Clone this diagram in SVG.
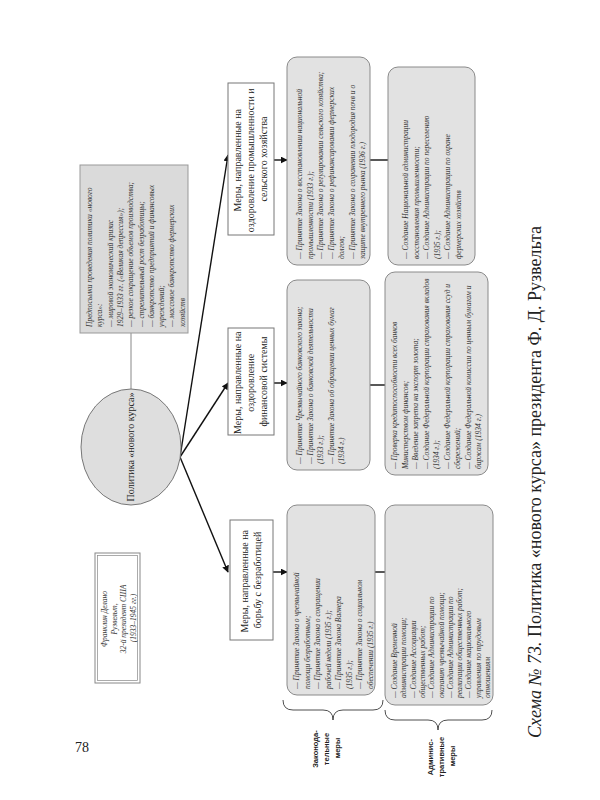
<svg xmlns="http://www.w3.org/2000/svg" width="600" height="800" viewBox="0 0 600 800">
<defs>
<style>
.bg{fill:#ffffff}
.it{font-family:"Liberation Serif","DejaVu Serif",serif;font-style:italic;font-size:7.5px;fill:#333}
.rg{font-family:"Liberation Serif","DejaVu Serif",serif;font-size:10px;fill:#222}
.lb{font-family:"Liberation Sans","DejaVu Sans",sans-serif;font-weight:bold;font-size:7.5px;fill:#222}
.gbox{fill:#e2e2e2;stroke:#8a8a8a;stroke-width:1}
.wbox{fill:#ffffff;stroke:#777;stroke-width:1}
.con{stroke:#111;stroke-width:1.4;fill:none}
.thin{stroke:#888;stroke-width:1;fill:none}
.brace{stroke:#222;stroke-width:0.8;fill:none}
</style>
<marker id="ah" viewBox="0 0 10 10" refX="9" refY="5" markerWidth="7" markerHeight="7" orient="auto" markerUnits="userSpaceOnUse">
<path d="M0,0 L10,5 L0,10 z" fill="#111"/>
</marker>
</defs>
<rect class="bg" x="0" y="0" width="600" height="800"/>
<text x="75" y="752" font-family="Liberation Serif, serif" font-size="14" fill="#222">78</text>
<g transform="translate(0,800) rotate(-90)">
<g id="connectors">
<line class="thin" x1="411" y1="131" x2="467" y2="131"/>
<line class="con" x1="343" y1="180" x2="645" y2="228" marker-end="url(#ah)"/>
<line class="con" x1="343" y1="180" x2="417" y2="228" marker-end="url(#ah)"/>
<line class="con" x1="343" y1="180" x2="228" y2="228" marker-end="url(#ah)"/>
<line class="con" x1="640" y1="274" x2="640" y2="287" marker-end="url(#ah)"/>
<line class="con" x1="417" y1="274" x2="417" y2="287" marker-end="url(#ah)"/>
<line class="con" x1="228" y1="273" x2="228" y2="287" marker-end="url(#ah)"/>
<line class="con" x1="640" y1="370" x2="640" y2="388"/>
<line class="con" x1="415" y1="370" x2="415" y2="385"/>
<line class="con" x1="228" y1="375" x2="228" y2="385"/>
</g>
<g id="premises">
<rect x="467" y="80" width="168" height="108" fill="#dadada" stroke="#999"/>
<text class="it">
<tspan x="473" y="92">Предпосылки проведения политики «нового</tspan>
<tspan x="473" y="102.3">курса»:</tspan>
<tspan x="473" y="112.6">— мировой экономический кризис</tspan>
<tspan x="473" y="122.9">1929–1933 гг. («Великая депрессия»);</tspan>
<tspan x="473" y="133.2">— резкое сокращение объемов производства;</tspan>
<tspan x="473" y="143.5">— стремительный рост безработицы;</tspan>
<tspan x="473" y="153.8">— банкротство предприятий и финансовых</tspan>
<tspan x="473" y="164.1">учреждений;</tspan>
<tspan x="473" y="174.4">— массовое банкротство фермерских</tspan>
<tspan x="473" y="184.7">хозяйств</tspan>
</text>
</g>
<g id="roosevelt">
<rect x="117" y="95" width="130" height="45" fill="#fff" stroke="#888"/>
<rect x="119.5" y="97.5" width="125" height="40" fill="none" stroke="#888" stroke-width="0.7"/>
<text class="it" text-anchor="middle">
<tspan x="182" y="107">Франклин Делано</tspan>
<tspan x="182" y="116.5">Рузвельт,</tspan>
<tspan x="182" y="126">32-й президент США</tspan>
<tspan x="182" y="135.5">(1933–1945 гг.)</tspan>
</text>
</g>
<g id="policy">
<ellipse cx="353" cy="131" rx="58" ry="50" fill="#dedede" stroke="#777"/>
<text class="rg" x="353" y="134" text-anchor="middle">Политика «нового курса»</text>
</g>
<g id="m1">
<rect class="wbox" x="565" y="228" width="152" height="46"/>
<text class="rg" text-anchor="middle">
<tspan x="641" y="241">Меры, направленные на</tspan>
<tspan x="641" y="254">оздоровление промышленности и</tspan>
<tspan x="641" y="267">сельского хозяйства</tspan>
</text>
</g>
<g id="m2">
<rect class="wbox" x="365" y="228" width="107" height="46"/>
<text class="rg" text-anchor="middle">
<tspan x="418.5" y="241">Меры, направленные на</tspan>
<tspan x="418.5" y="254">оздоровление</tspan>
<tspan x="418.5" y="267">финансовой системы</tspan>
</text>
</g>
<g id="m3">
<rect class="wbox" x="160" y="230" width="120" height="43"/>
<text class="rg" text-anchor="middle">
<tspan x="220" y="248">Меры, направленные на</tspan>
<tspan x="220" y="261">борьбу с безработицей</tspan>
</text>
</g>
<g id="l1">
<rect class="gbox" x="535" y="287" width="208" height="83" rx="10"/>
<text class="it">
<tspan x="541" y="302">— Принятие Закона о восстановлении национальной</tspan>
<tspan x="541" y="312.5">промышленности (1933 г.);</tspan>
<tspan x="541" y="323">— Принятие Закона о регулировании сельского хозяйства;</tspan>
<tspan x="541" y="333.5">— Принятие Закона о рефинансировании фермерских</tspan>
<tspan x="541" y="344">долгов;</tspan>
<tspan x="541" y="354.5">— Принятие Закона о сохранении плодородия почв и о</tspan>
<tspan x="541" y="365">защите внутреннего рынка (1936 г.)</tspan>
</text>
</g>
<g id="a1">
<rect class="gbox" x="535" y="388" width="198" height="87" rx="10"/>
<text class="it">
<tspan x="541" y="408">— Создание Национальной администрации</tspan>
<tspan x="541" y="418.5">восстановления промышленности;</tspan>
<tspan x="541" y="429">— Создание Администрации по переселению</tspan>
<tspan x="541" y="439.5">(1935 г.);</tspan>
<tspan x="541" y="450">— Создание Администрации по охране</tspan>
<tspan x="541" y="460.5">фермерских хозяйств</tspan>
</text>
</g>
<g id="l2">
<rect class="gbox" x="330" y="287" width="190" height="83" rx="10"/>
<text class="it">
<tspan x="336" y="302">— Принятие Чрезвычайного банковского закона;</tspan>
<tspan x="336" y="312.5">— Принятие Закона о банковской деятельности</tspan>
<tspan x="336" y="323">(1933 г.);</tspan>
<tspan x="336" y="333.5">— Принятие Закона об обращении ценных бумаг</tspan>
<tspan x="336" y="344">(1934 г.)</tspan>
</text>
</g>
<g id="a2">
<rect class="gbox" x="325" y="385" width="203" height="103" rx="10"/>
<text class="it">
<tspan x="331" y="397">— Проверка кредитоспособности всех банков</tspan>
<tspan x="331" y="407.5">Министерством финансов;</tspan>
<tspan x="331" y="418">— Введение запрета на экспорт золота;</tspan>
<tspan x="331" y="428.5">— Создание Федеральной корпорации страхования вкладов</tspan>
<tspan x="331" y="439">(1934 г.);</tspan>
<tspan x="331" y="449.5">— Создание Федеральной корпорации страхования ссуд и</tspan>
<tspan x="331" y="460">сбережений;</tspan>
<tspan x="331" y="470.5">— Создание Федеральной комиссии по ценным бумагам и</tspan>
<tspan x="331" y="481">биржам (1934 г.)</tspan>
</text>
</g>
<g id="l3">
<rect class="gbox" x="105" y="287" width="190" height="88" rx="10"/>
<text class="it">
<tspan x="111" y="299">— Принятие Закона о чрезвычайной</tspan>
<tspan x="111" y="309.5">помощи безработным;</tspan>
<tspan x="111" y="320">— Принятие Закона о сокращении</tspan>
<tspan x="111" y="330.5">рабочей недели (1935 г.);</tspan>
<tspan x="111" y="341">— Принятие Закона Вагнера</tspan>
<tspan x="111" y="351.5">(1935 г.);</tspan>
<tspan x="111" y="362">— Принятие Закона о социальном</tspan>
<tspan x="111" y="372.5">обеспечении (1935 г.)</tspan>
</text>
</g>
<g id="a3">
<rect class="gbox" x="95" y="385" width="200" height="108" rx="10"/>
<text class="it">
<tspan x="102" y="397">— Создание Временной</tspan>
<tspan x="102" y="406.3">администрации помощи;</tspan>
<tspan x="102" y="415.6">— Создание Ассоциации</tspan>
<tspan x="102" y="424.9">общественных работ;</tspan>
<tspan x="102" y="434.2">— Создание Администрации по</tspan>
<tspan x="102" y="443.5">оказанию чрезвычайной помощи;</tspan>
<tspan x="102" y="452.8">— Создание Администрации по</tspan>
<tspan x="102" y="462.1">реализации общественных работ;</tspan>
<tspan x="102" y="471.4">— Создание национального</tspan>
<tspan x="102" y="480.7">управления по трудовым</tspan>
<tspan x="102" y="490">отношениям</tspan>
</text>
</g>
<g id="brace-legis">
<path class="brace" d="M100,283 Q90,283 90,293 L90,323 Q90,333 80,333 Q90,333 90,343 L90,373 Q90,383 100,383"/>
<text class="lb" text-anchor="middle">
<tspan x="52" y="318">Законода-</tspan>
<tspan x="52" y="329">тельные</tspan>
<tspan x="52" y="340">меры</tspan>
</text>
</g>
<g id="brace-admin">
<path class="brace" d="M90,385 Q80,385 80,395 L80,428 Q80,438 70,438 Q80,438 80,448 L80,482 Q80,492 90,492"/>
<text class="lb" text-anchor="middle">
<tspan x="44" y="433">Админис-</tspan>
<tspan x="44" y="444">тративные</tspan>
<tspan x="44" y="455">меры</tspan>
</text>
</g>
<g id="title">
<text x="62" y="541" font-family="Liberation Serif, serif" font-size="18" fill="#222"><tspan font-style="italic">Схема № 73.</tspan> Политика «нового курса» президента Ф. Д. Рузвельта</text>
</g>
</g>
</svg>
